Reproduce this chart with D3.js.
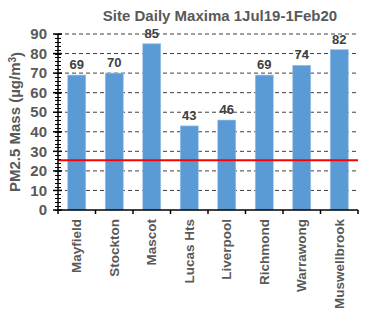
<!DOCTYPE html>
<html>
<head>
<meta charset="utf-8">
<script src="https://cdn.jsdelivr.net/npm/d3@7"></script>
<style>
  body { margin: 0; background: #fff; }
  text { font-family: "Liberation Sans", Arial, sans-serif; font-weight: bold; }
</style>
</head>
<body>
<svg id="chart" width="370" height="320"></svg>
<script>
// data
const sites = ['Mayfield', 'Stockton', 'Mascot', 'Lucas Hts', 'Liverpool',
  'Richmond', 'Warrawong', 'Muswellbrook'];
const maxima = [69, 70, 85, 43, 46, 69, 74, 82];
const standard = 25.5;
const yTicks = [0, 10, 20, 30, 40, 50, 60, 70, 80, 90];

const svg = d3.select('#chart');
const margin = {left: 58, right: 12, top: 34, bottom: 110};
const W = 370, H = 320;

const x = d3.scaleBand().domain(sites)
  .range([margin.left, W - margin.right])
  .paddingInner(0.52).paddingOuter(0.26);
const y = d3.scaleLinear().domain([0, 90]).range([H - margin.bottom, margin.top]);

// gridlines
svg.append('g').selectAll('line').data(yTicks.filter(d => d > 0)).join('line')
  .attr('x1', margin.left).attr('x2', W - margin.right)
  .attr('y1', d => y(d)).attr('y2', d => y(d))
  .attr('stroke', '#404040').attr('stroke-width', 1)
  .attr('stroke-dasharray', '4,3');

// bars
svg.append('g').selectAll('rect').data(maxima).join('rect')
  .attr('x', (d, i) => x(sites[i]))
  .attr('width', x.bandwidth())
  .attr('y', d => y(d))
  .attr('height', d => y(0) - y(d))
  .attr('fill', '#5B9BD5')
  .attr('stroke', '#9DC3E6').attr('stroke-width', 0.6);

// value labels
svg.append('g').selectAll('text').data(maxima).join('text')
  .attr('x', (d, i) => x(sites[i]) + x.bandwidth() / 2)
  .attr('y', d => y(d) - 6)
  .attr('text-anchor', 'middle')
  .attr('font-size', 13).attr('fill', '#404040')
  .text(d => d);

// standard line
svg.append('line')
  .attr('x1', margin.left).attr('x2', W - margin.right)
  .attr('y1', y(standard)).attr('y2', y(standard))
  .attr('stroke', '#FF0000').attr('stroke-width', 2);

// y axis: minor ticks every 2, major every 10
const yAxisG = svg.append('g');
yAxisG.selectAll('line.minor').data(d3.range(0, 91, 2)).join('line')
  .attr('class', 'minor')
  .attr('x1', margin.left - 3).attr('x2', margin.left + 3)
  .attr('y1', d => Math.round(y(d)) + 0.5).attr('y2', d => Math.round(y(d)) + 0.5)
  .attr('stroke', '#000');
yAxisG.selectAll('line.major').data(yTicks).join('line')
  .attr('class', 'major')
  .attr('x1', margin.left - 5).attr('x2', margin.left + 4)
  .attr('y1', d => y(d)).attr('y2', d => y(d))
  .attr('stroke', '#000').attr('stroke-width', 1.5);
yAxisG.append('line')
  .attr('x1', margin.left).attr('x2', margin.left)
  .attr('y1', y(0)).attr('y2', y(90))
  .attr('stroke', '#000').attr('stroke-width', 1.5);
yAxisG.selectAll('text').data(yTicks).join('text')
  .attr('x', margin.left - 11).attr('y', d => y(d))
  .attr('dy', '0.35em').attr('text-anchor', 'end')
  .attr('font-size', 15).attr('fill', '#595959')
  .text(d => d);

// x axis
const step = x.step();
const bounds = d3.range(sites.length + 1).map(i => margin.left + i * step);
svg.append('line')
  .attr('x1', margin.left).attr('x2', W - margin.right)
  .attr('y1', y(0)).attr('y2', y(0))
  .attr('stroke', '#000').attr('stroke-width', 1.5);
svg.append('g').selectAll('line').data(bounds).join('line')
  .attr('x1', d => d).attr('x2', d => d)
  .attr('y1', y(0)).attr('y2', y(0) + 4)
  .attr('stroke', '#000').attr('stroke-width', 1.5);
svg.append('g').selectAll('text').data(sites).join('text')
  .attr('transform', d => `translate(${x(d) + x.bandwidth() / 2},${y(0) + 9}) rotate(-90)`)
  .attr('text-anchor', 'end').attr('dy', '0.35em')
  .attr('font-size', 13.5).attr('fill', '#595959')
  .text(d => d);

// y label
const yl = svg.append('text')
  .attr('transform', `translate(15,${(y(0) + y(90)) / 2}) rotate(-90)`)
  .attr('text-anchor', 'middle').attr('dy', '0.35em')
  .attr('font-size', 15).attr('fill', '#595959');
yl.append('tspan').text('PM2.5 Mass (µg/m');
yl.append('tspan').attr('dy', '-0.4em').attr('font-size', 10).text('3');
yl.append('tspan').attr('dy', '0.4em').text(')');

// title
svg.append('text')
  .attr('x', 220).attr('y', 21)
  .attr('text-anchor', 'middle')
  .attr('font-size', 15).attr('fill', '#595959')
  .text('Site Daily Maxima 1Jul19-1Feb20');
</script>
</body>
</html>
